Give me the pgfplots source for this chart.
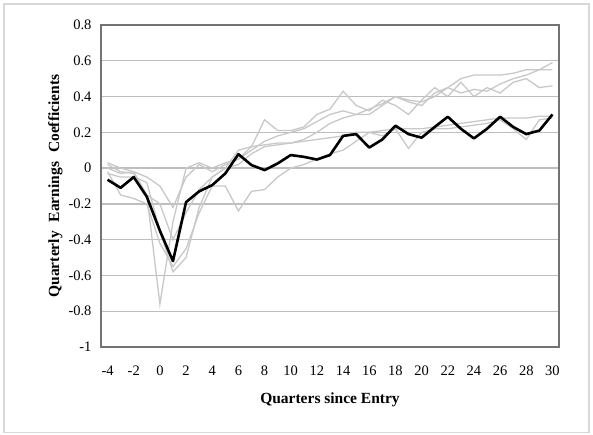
\documentclass[border=0pt]{standalone}
\usepackage{fontspec}
\setmainfont{Liberation Serif}
\usepackage{pgfplots}
\usepackage{pgfplotstable}
\pgfplotsset{compat=1.18}
\definecolor{lgray}{RGB}{200,200,200}
\definecolor{gridc}{RGB}{190,190,190}

\pgfplotstableread{
q   g1     g2     g3     g4     g5     b
-4  0.02  -0.03   0.00  -0.02   0.03  -0.065
-3 -0.02  -0.05  -0.03  -0.15   0.00  -0.11
-2 -0.03  -0.05  -0.02  -0.17  -0.02  -0.05
-1 -0.15  -0.08  -0.05  -0.20  -0.15  -0.16
0  -0.76  -0.35  -0.10  -0.42  -0.20  -0.35
1  -0.30  -0.58  -0.22  -0.55  -0.40  -0.52
2   0.00  -0.50  -0.05  -0.45  -0.25  -0.19
3   0.03  -0.22   0.02  -0.25  -0.12  -0.13
4   0.00  -0.05  -0.02  -0.10  -0.05  -0.095
5   0.03   0.00   0.02  -0.10   0.00  -0.03
6   0.05   0.02   0.05  -0.24   0.10   0.078
7   0.10   0.08   0.12  -0.13   0.12   0.017
8   0.15   0.12   0.27  -0.12   0.13  -0.011
9   0.18   0.13   0.21  -0.05   0.14   0.026
10  0.20   0.14   0.21   0.00   0.14   0.073
11  0.22   0.16   0.23   0.02   0.15   0.063
12  0.26   0.20   0.30   0.05   0.16   0.048
13  0.30   0.25   0.33   0.08   0.17   0.073
14  0.32   0.28   0.43   0.10   0.18   0.18
15  0.30   0.30   0.35   0.15   0.20   0.19
16  0.33   0.30   0.32   0.20   0.20   0.115
17  0.36   0.35   0.38   0.18   0.21   0.16
18  0.40   0.40   0.35   0.22   0.22   0.237
19  0.37   0.38   0.30   0.11   0.22   0.19
20  0.35   0.37   0.38   0.20   0.22   0.17
21  0.42   0.40   0.45   0.22   0.23   0.23
22  0.45   0.45   0.40   0.22   0.24   0.287
23  0.42   0.50   0.48   0.23   0.25   0.22
24  0.44   0.52   0.40   0.24   0.26   0.166
25  0.43   0.52   0.45   0.25   0.27   0.22
26  0.47   0.52   0.42   0.27   0.28   0.287
27  0.50   0.53   0.48   0.22   0.28   0.23
28  0.52   0.55   0.50   0.16   0.28   0.19
29  0.55   0.55   0.45   0.27   0.29   0.21
30  0.59   0.55   0.46   0.28   0.29   0.30
}\datatable

\begin{document}
\begin{tikzpicture}
\path (0pt,0pt) rectangle (593pt,434pt);
\draw[gray!30, line width=1.5pt] (4pt,1.5pt) rectangle (589pt,430pt);
\begin{axis}[
  at={(101pt,87pt)}, anchor=south west,
  scale only axis, width=458pt, height=322pt,
  xmin=-4.5, xmax=30.5, ymin=-1, ymax=0.8,
  xtick={-4,-2,...,30},
  ytick={-1,-0.8,-0.6,-0.4,-0.2,0,0.2,0.4,0.6,0.8},
  yticklabels={-1,-0.8,-0.6,-0.4,-0.2,0,0.2,0.4,0.6,0.8},
  major tick length=0pt,
  tick style={draw=none},
  ymajorgrids,
  grid style={draw=gridc, line width=1.3pt},
  axis line style={draw=none},
  tick label style={font=\fontsize{14.5}{16}\selectfont},
  /pgf/number format/assume math mode=true,
  xticklabel style={yshift=-15pt},
  yticklabel style={xshift=-6pt},
  xlabel={\textbf{Quarters since Entry}},
  ylabel={\textbf{Quarterly\hspace{9pt}Earnings\hspace{9pt}Coefficients}},
  label style={font=\fontsize{15.5}{17}\selectfont},
  xlabel style={yshift=-11pt},
  ylabel style={yshift=-1pt},
  clip=false,
]
\addplot[lgray, line width=1.3pt] table[x=q,y=g1]{\datatable};
\addplot[lgray, line width=1.3pt] table[x=q,y=g2]{\datatable};
\addplot[lgray, line width=1.3pt] table[x=q,y=g3]{\datatable};
\addplot[lgray, line width=1.3pt] table[x=q,y=g4]{\datatable};
\addplot[lgray, line width=1.3pt] table[x=q,y=g5]{\datatable};
\addplot[black, line width=2.6pt, line join=round] table[x=q,y=b]{\datatable};
\draw[black!55, line width=1.3pt] (rel axis cs:0,0) rectangle (rel axis cs:1,1);
\end{axis}
\end{tikzpicture}
\end{document}
